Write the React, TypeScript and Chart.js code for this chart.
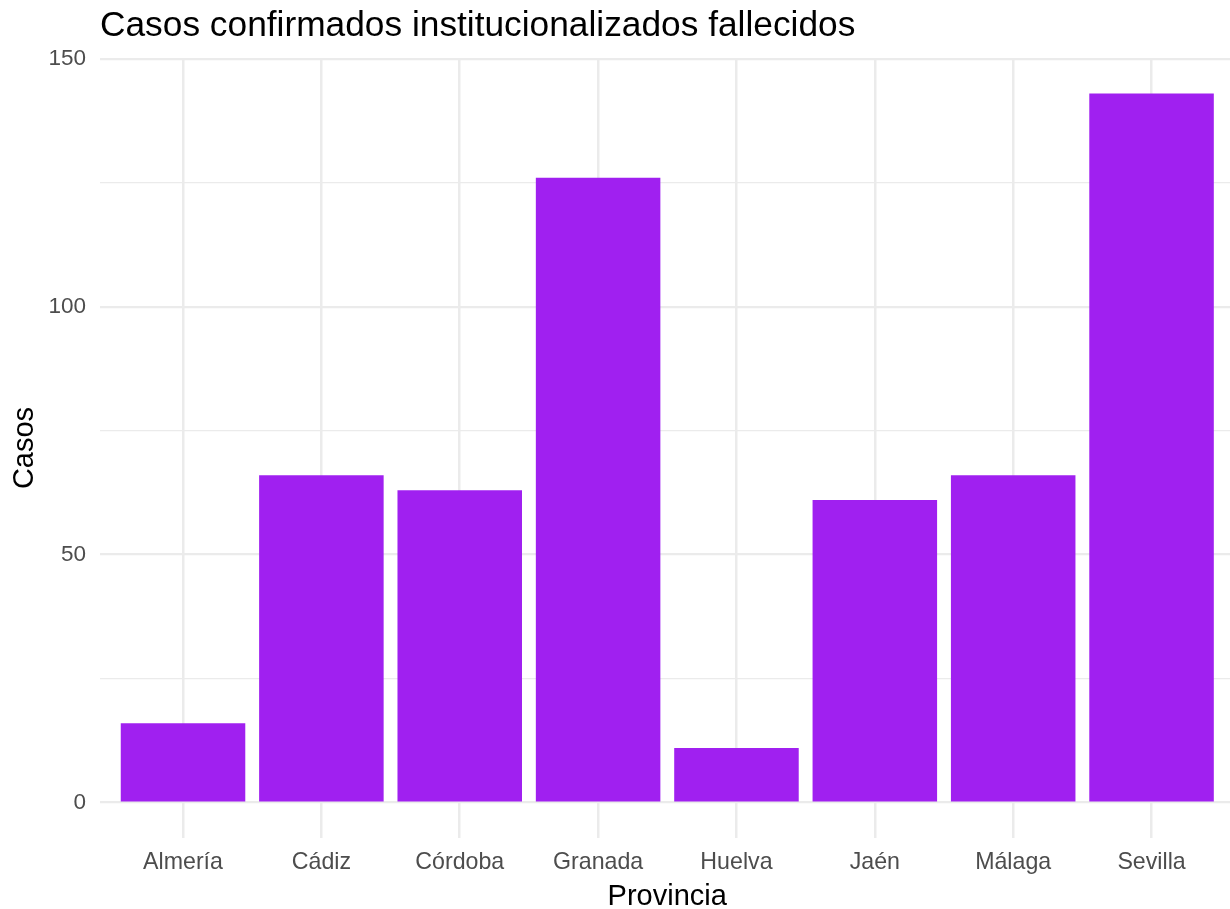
import React, { useEffect, useRef } from "react";
import { Chart, registerables } from "chart.js";

Chart.register(...registerables);

const provincias = ["Almería", "Cádiz", "Córdoba", "Granada", "Huelva", "Jaén", "Málaga", "Sevilla"];
const casos = [16, 66, 63, 126, 11, 61, 66, 143];
const yMajorTicks = [0, 50, 100, 150];
const yMinorTicks = [25, 75, 125];

const titleText = "Casos confirmados institucionalizados fallecidos";
const xTitleText = "Provincia";
const yTitleText = "Casos";

const FONT = "'Liberation Sans', Arial, sans-serif";

export default function App() {
  const canvasRef = useRef<HTMLCanvasElement | null>(null);

  useEffect(() => {
    document.body.style.margin = "0";
    const canvas = canvasRef.current;
    if (!canvas) return;

    const textPlugin = {
      id: "ggText",
      afterDraw(chart: any) {
        const ctx = chart.ctx;
        const area = chart.chartArea;
        ctx.save();
        ctx.fillStyle = "#000000";
        ctx.textBaseline = "alphabetic";
        ctx.font = `35.3px ${FONT}`;
        ctx.textAlign = "left";
        ctx.fillText(titleText, area.left, 36);

        ctx.font = `29px ${FONT}`;
        ctx.textAlign = "center";
        ctx.fillText(xTitleText, (area.left + 1234.5) / 2, 905);

        ctx.translate(33, (area.top + area.bottom) / 2);
        ctx.rotate(-Math.PI / 2);
        ctx.fillText(yTitleText, 0, 0);
        ctx.restore();
      },
    };

    const allY = [...yMajorTicks, ...yMinorTicks].sort((a, b) => a - b);

    const chart = new Chart(canvas, {
      type: "bar",
      data: {
        datasets: [
          {
            data: casos.map((v, i) => ({ x: i, y: v })),
            backgroundColor: "#A020F0",
            borderWidth: 0,
            barPercentage: 0.9,
            categoryPercentage: 1,
          },
        ],
      },
      options: {
        animation: false,
        responsive: false,
        maintainAspectRatio: false,
        layout: { padding: { top: 58, left: 0, right: 0, bottom: 0 } },
        plugins: {
          legend: { display: false },
          tooltip: { enabled: false },
          title: { display: false },
        },
        scales: {
          x: {
            type: "linear",
            offset: false,
            min: -0.6,
            max: 7.567,
            afterBuildTicks(scale: any) {
              scale.ticks = provincias.map((_, i) => ({ value: i }));
            },
            afterFit(scale: any) {
              scale.height = 909 - 838;
            },
            ticks: {
              autoSkip: false,
              maxRotation: 0,
              padding: 11,
              color: "#4D4D4D",
              font: { family: FONT, size: 23.2 },
              callback: (v: any) => provincias[Number(v)] ?? "",
            },
            grid: { color: "#EBEBEB", lineWidth: 2.5, drawTicks: false, offset: false },
            border: { display: false },
          },
          y: {
            type: "linear",
            min: -7.15,
            max: 150.15,
            afterBuildTicks(scale: any) {
              scale.ticks = allY.map((v) => ({ value: v }));
            },
            afterFit(scale: any) {
              scale.width = 100;
            },
            ticks: {
              autoSkip: false,
              padding: 14,
              color: "#4D4D4D",
              font: { family: FONT, size: 22.5 },
              callback: (v: any) => (yMajorTicks.includes(Number(v)) ? String(v) : ""),
            },
            grid: {
              color: "#EBEBEB",
              lineWidth: (c: any) => (yMajorTicks.includes(c.tick?.value) ? 2.3 : 1.2),
              drawTicks: false,
            },
            border: { display: false },
          },
        },
      },
      plugins: [textPlugin],
    });

    return () => chart.destroy();
  }, []);

  return (
    <div style={{ width: 1230, height: 909, background: "#ffffff" }}>
      <canvas ref={canvasRef} width={1230} height={909} style={{ display: "block", width: 1230, height: 909 }} />
    </div>
  );
}
